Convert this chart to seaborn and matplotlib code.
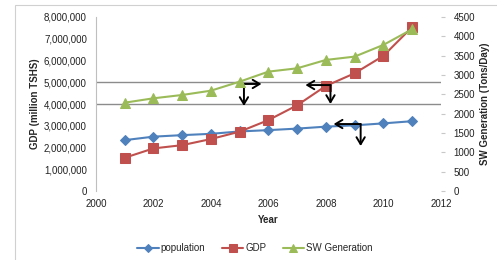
import matplotlib
matplotlib.use("Agg")
import matplotlib.pyplot as plt
import seaborn as sns
import numpy as np
from matplotlib.patches import Rectangle
from matplotlib.ticker import FuncFormatter, MultipleLocator

# Data
years = [2001, 2002, 2003, 2004, 2005, 2006, 2007, 2008, 2009, 2010, 2011]
population = [2340000, 2500000, 2570000, 2630000, 2740000, 2800000, 2870000, 2960000, 3020000, 3110000, 3210000]
gdp = [1530000, 1960000, 2110000, 2390000, 2730000, 3260000, 3940000, 4830000, 5410000, 6210000, 7530000]
sw_generation = [2284, 2397, 2483, 2594, 2827, 3086, 3172, 3388, 3474, 3776, 4181]

blue = "#4F81BD"
red = "#C0504D"
green = "#9BBB59"

sns.set_style("white")
plt.rcParams['font.family'] = ['Liberation Sans', 'DejaVu Sans']

fig = plt.figure(figsize=(4.97, 2.60), dpi=100)
ax = fig.add_axes([0.193, 0.265, 0.694, 0.67])
ax2 = ax.twinx()

# outer chart border (only top and left edges fall inside the image)
fig.patches.append(Rectangle((0.030, -0.5), 2.0, 1.479, transform=fig.transFigure,
                             fill=False, edgecolor="#d0d0d0", linewidth=0.8))

sns.lineplot(x=years, y=population, ax=ax, color=blue, marker="D", markersize=5,
             markeredgecolor=blue, linewidth=1.5, label="population", legend=False)
sns.lineplot(x=years, y=gdp, ax=ax, color=red, marker="s", markersize=6.5,
             markeredgecolor=red, linewidth=1.5, label="GDP", legend=False)
sns.lineplot(x=years, y=sw_generation, ax=ax2, color=green, marker="^", markersize=7,
             markeredgecolor=green, linewidth=1.5, label="SW Generation", legend=False)

ax.set_xlim(2000, 2012)
ax.set_ylim(0, 8000000)
ax2.set_ylim(0, 4500)
ax.xaxis.set_major_locator(MultipleLocator(2))
ax.yaxis.set_major_locator(MultipleLocator(1000000))
ax2.yaxis.set_major_locator(MultipleLocator(500))
ax.yaxis.set_major_formatter(FuncFormatter(lambda v, p: f"{int(v):,}"))

# the two horizontal reference lines
for yv in [4000000, 5000000]:
    ax.axhline(yv, color="#8c8c8c", linewidth=1.0, zorder=0)

for a in (ax, ax2):
    for s in ["top", "right", "bottom"]:
        a.spines[s].set_visible(False)
ax2.spines["left"].set_visible(False)
ax.spines["left"].set_color("#bfbfbf")
ax.spines["left"].set_linewidth(0.8)

ax.tick_params(axis="y", length=0, pad=6.5, labelsize=7, labelcolor="#222222")
ax.tick_params(axis="x", length=3, color="#c8c8c8", pad=3, labelsize=7, labelcolor="#222222")
ax2.tick_params(axis="y", length=3, color="#c8c8c8", pad=6, labelsize=7, labelcolor="#222222")

ax.set_xlabel("Year", fontsize=7, fontweight="bold", labelpad=4)
ax.set_ylabel("GDP (million TSHS)", fontsize=7, fontweight="bold", labelpad=3)
ax2.set_ylabel("SW Generation (Tons/Day)", fontsize=7, fontweight="bold", labelpad=4)

# elbow arrows
arrow = dict(arrowstyle="->,head_length=0.5,head_width=0.3", color="black", lw=1.4,
             shrinkA=0, shrinkB=0)
corners = [(2005.15, 4920000, 2005.76, 3910000),
           (2008.16, 4870000, 2007.29, 4000000),
           (2009.21, 3080000, 2008.27, 2070000)]
for cx, cy, hx, vy in corners:
    ax.annotate("", xy=(hx, cy), xytext=(cx, cy), arrowprops=arrow, zorder=5)
    ax.annotate("", xy=(cx, vy), xytext=(cx, cy), arrowprops=arrow, zorder=5)

h1, l1 = ax.get_legend_handles_labels()
h2, l2 = ax2.get_legend_handles_labels()
fig.legend(h1 + h2, l1 + l2, loc="center", bbox_to_anchor=(0.513, 0.046), ncol=3,
           frameon=False, fontsize=7, handlelength=2.2, handletextpad=0.2,
           columnspacing=1.7, markerscale=0.8)

plt.savefig("out.png", dpi=100)
